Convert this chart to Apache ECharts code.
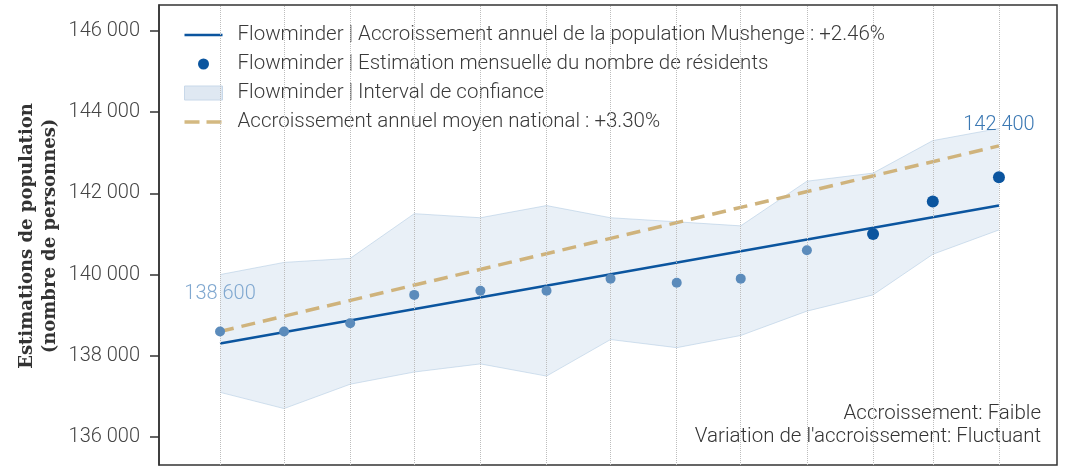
<!DOCTYPE html>
<html>
<head>
<meta charset="utf-8">
<script src="https://cdn.jsdelivr.net/npm/echarts@6/dist/echarts.min.js"></script>
<style>
  html, body { margin: 0; padding: 0; background: #fff; }
  #chart { width: 1071px; height: 467px; }
</style>
</head>
<body>
<div id="chart"></div>
<script>
// Monthly resident estimates for Mushenge, with confidence bounds
const months = ['2022-04-01', '2022-05-01', '2022-06-01', '2022-07-01', '2022-08-01', '2022-09-01',
                '2022-10-01', '2022-11-01', '2022-12-01', '2023-01-01', '2023-02-01', '2023-03-01', '2023-04-01'];
const estimates = [138600, 138600, 138800, 139500, 139600, 139600, 139900, 139800, 139900, 140600, 141000, 141800, 142400];
const upperBound = [140000, 140300, 140400, 141500, 141400, 141700, 141400, 141300, 141200, 142300, 142500, 143300, 143600];
const lowerBound = [137100, 136700, 137300, 137600, 137800, 137500, 138400, 138200, 138500, 139100, 139500, 140500, 141100];

// Growth lines: endpoints of the local trend and the national average trend
const trendDates = ['2022-04-01', '2023-04-01'];
const localTrend = [138300, 141700];
const nationalTrend = [138600, 143170];

const yTicks = [136000, 138000, 140000, 142000, 144000, 146000];

const names = {
  trend: 'Flowminder | Accroissement annuel de la population Mushenge : +2.46%',
  points: 'Flowminder | Estimation mensuelle du nombre de résidents',
  band: 'Flowminder | Interval de confiance',
  national: 'Accroissement annuel moyen national : +3.30%'
};

const DAY = 86400000;
const toTime = s => Date.UTC(+s.slice(0, 4), +s.slice(5, 7) - 1, +s.slice(8, 10));
const fmt = v => String(v).replace(/\B(?=(\d{3})+(?!\d))/g, ' ');

const times = months.map(toTime);
const FONT = 'Roboto';
const recentCount = 3;

// Legend glyphs drawn inside a 38x14 box (the leading moves fix the box)
const BOX = 'path://M0,0 M38,14 ';
const icons = {
  line: BOX + 'M0,5.8 L38,5.8 L38,8.2 L0,8.2 Z',
  dot: BOX + 'M24.5,7 A5.5,5.5 0 1,1 13.5,7 A5.5,5.5 0 1,1 24.5,7 Z',
  dash: BOX + 'M0,5.3 L15,5.3 L15,8.7 L0,8.7 Z M22,5.3 L37,5.3 L37,8.7 L22,8.7 Z'
};

const pointData = estimates.map((v, i) => {
  const recent = i >= estimates.length - recentCount;
  const item = {
    value: [times[i], v],
    symbolSize: recent ? 12 : 10,
    itemStyle: { color: recent ? '#0b559f' : '#5b8bbb', opacity: 1 }
  };
  if (i === 0 || i === estimates.length - 1) {
    item.label = {
      show: true,
      position: 'top',
      distance: i === 0 ? 22 : 36,
      formatter: p => fmt(p.value[1]),
      color: i === 0 ? '#80a8d0' : '#3b78b3',
      fontFamily: FONT,
      fontWeight: 300,
      fontSize: 20
    };
  }
  return item;
});

const chart = echarts.init(document.getElementById('chart'), null, { renderer: 'canvas' });

chart.setOption({
  animation: false,
  backgroundColor: '#fff',
  grid: {
    left: 159, top: 5, right: 14, bottom: 2,
    show: true, borderColor: '#333', borderWidth: 1.5, backgroundColor: 'transparent'
  },
  legend: {
    orient: 'vertical',
    left: 179,
    top: 19,
    itemWidth: 38,
    itemHeight: 14,
    itemGap: 7,
    textStyle: { fontFamily: FONT, fontWeight: 300, fontSize: 20.5, color: '#3a3a3a', lineHeight: 22, padding: [0, 0, 0, 10] },
    data: [
      { name: names.trend, icon: icons.line, itemStyle: { color: '#0b559f', opacity: 1 } },
      { name: names.points, icon: icons.dot, itemStyle: { color: '#0b559f', opacity: 1 } },
      { name: names.band, icon: 'rect', itemStyle: { color: '#dfe8f2', borderColor: '#c8d8e9', borderWidth: 1 } },
      { name: names.national, icon: icons.dash, itemStyle: { color: '#d4b981', opacity: 1 } }
    ]
  },
  xAxis: {
    type: 'time',
    min: times[0] - 28.6 * DAY,
    max: times[times.length - 1] + 27.2 * DAY,
    axisLine: { show: false },
    axisTick: { show: false },
    axisLabel: { show: false },
    splitLine: { show: false }
  },
  yAxis: {
    type: 'value',
    min: 135310,
    max: 146640,
    axisLine: { show: true, lineStyle: { color: '#333', width: 1.5 } },
    axisTick: { show: true, length: 9, customValues: yTicks, lineStyle: { color: '#333', width: 1.5 } },
    axisLabel: {
      customValues: yTicks,
      formatter: v => fmt(v),
      margin: 19,
      fontFamily: FONT,
      fontWeight: 300,
      fontSize: 20,
      color: '#444'
    },
    splitLine: { show: false }
  },
  graphic: [
    {
      type: 'text', x: 39, y: 236, rotation: Math.PI / 2,
      style: {
        text: 'Estimations de population\n(nombre de personnes)',
        fontFamily: 'DejaVu Serif', fontWeight: 'bold', fontSize: 18, lineHeight: 23,
        fill: '#333', textAlign: 'center', textVerticalAlign: 'middle'
      }
    },
    {
      type: 'text', right: 30, top: 402,
      style: {
        text: 'Accroissement: Faible\nVariation de l\'accroissement: Fluctuant',
        fontFamily: FONT, fontWeight: 300, fontSize: 20.5, lineHeight: 23,
        fill: '#333', textAlign: 'right'
      }
    }
  ],
  series: [
    {
      // lower edge of the confidence band, plus monthly guide lines
      name: 'bandBase',
      type: 'line',
      stack: 'ci',
      symbol: 'none',
      z: 1,
      silent: true,
      lineStyle: { color: 'rgba(160,190,220,0.45)', width: 1 },
      data: times.map((t, i) => [t, lowerBound[i]]),
      markLine: {
        silent: true,
        symbol: ['none', 'none'],
        label: { show: false },
        lineStyle: { color: '#bdbdbd', type: 'dotted', width: 1 },
        data: times.map(t => ({ xAxis: t }))
      }
    },
    {
      name: names.band,
      type: 'line',
      stack: 'ci',
      symbol: 'none',
      z: 2,
      silent: true,
      lineStyle: { color: 'rgba(160,190,220,0.45)', width: 1 },
      areaStyle: { color: 'rgba(176,200,226,0.4)' },
      data: times.map((t, i) => [t, upperBound[i] - lowerBound[i]])
    },
    {
      name: names.trend,
      type: 'line',
      symbol: 'none',
      z: 3,
      lineStyle: { color: '#0b559f', width: 2.5 },
      data: trendDates.map((d, i) => [toTime(d), localTrend[i]])
    },
    {
      name: names.national,
      type: 'line',
      symbol: 'none',
      z: 4,
      lineStyle: { color: '#cfb37c', width: 3.5, type: [14, 8] },
      data: trendDates.map((d, i) => [toTime(d), nationalTrend[i]])
    },
    {
      name: names.points,
      type: 'scatter',
      z: 5,
      itemStyle: { color: '#0b559f', opacity: 1 },
      data: pointData
    }
  ]
});
</script>
</body>
</html>
